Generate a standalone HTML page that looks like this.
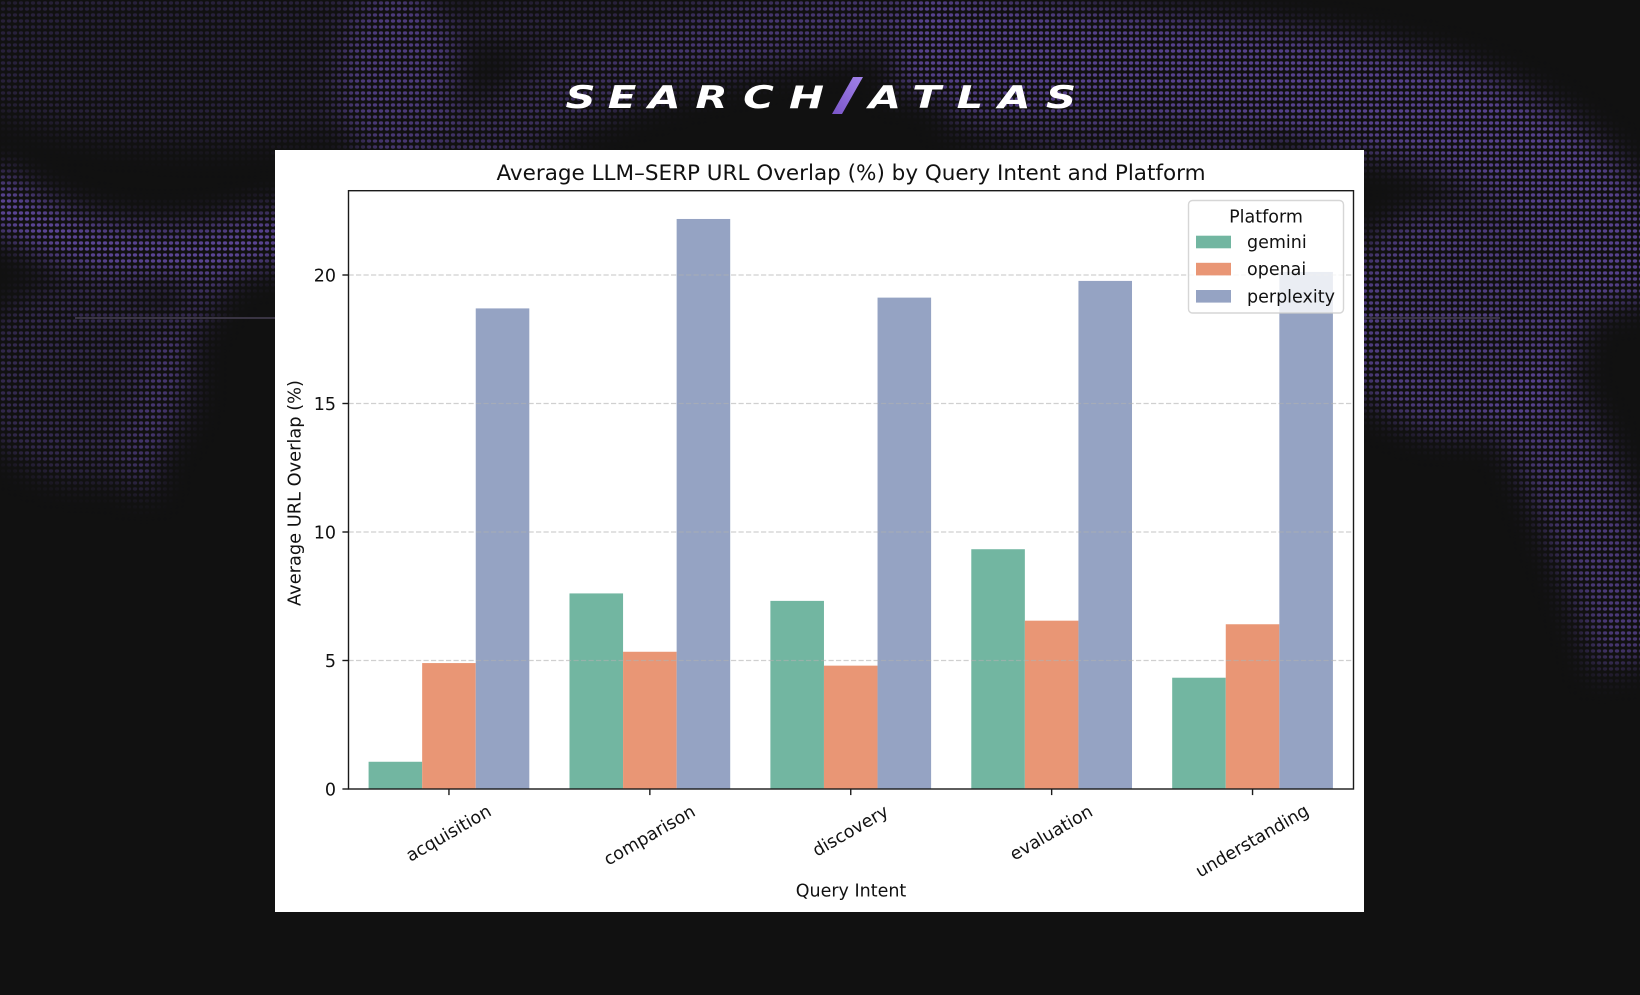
<!DOCTYPE html>
<html>
<head>
<meta charset="utf-8">
<style>
  html, body { margin: 0; padding: 0; background: #111111; }
  body { width: 1640px; height: 995px; overflow: hidden; }
  svg { display: block; }
  .t { font-family: "DejaVu Sans", "Liberation Sans", sans-serif; fill: #111; }
</style>
</head>
<body>
<svg width="1640" height="995" viewBox="0 0 1640 995" xmlns="http://www.w3.org/2000/svg">
  <defs>
    <pattern id="dots" width="6" height="6" patternUnits="userSpaceOnUse">
      <ellipse cx="3" cy="3" rx="2.2" ry="1.7" fill="#5e479a"/>
    </pattern>
    <filter id="blur" x="-20%" y="-20%" width="140%" height="140%">
      <feGaussianBlur stdDeviation="15"/>
    </filter>
    <mask id="halfmask" maskUnits="userSpaceOnUse" x="0" y="0" width="1640" height="995">
      <rect x="0" y="0" width="1640" height="995" fill="black"/>
      <g filter="url(#blur)">
        <!-- sparse top-left -->
        <ellipse cx="200" cy="55" rx="260" ry="90" fill="white" fill-opacity="0.3"/>
        <!-- streaks near x 400 -->
        <ellipse cx="400" cy="80" rx="60" ry="95" fill="white" fill-opacity="0.7"/>
        <!-- top middle -->
        <path d="M 450 155 C 560 90, 700 40, 900 10" stroke="white" stroke-opacity="0.55" stroke-width="70" fill="none"/>
        <ellipse cx="700" cy="25" rx="260" ry="40" fill="white" fill-opacity="0.35"/>
        <!-- right band -->
        <path d="M 900 35 C 1100 70, 1300 70, 1450 120 C 1560 160, 1620 230, 1640 300" stroke="white" stroke-opacity="0.9" stroke-width="110" fill="none"/>
        <path d="M 950 105 C 1050 130, 1150 150, 1260 160" stroke="white" stroke-opacity="0.6" stroke-width="40" fill="none"/>
        <!-- right region -->
        <ellipse cx="1460" cy="320" rx="125" ry="115" fill="white" fill-opacity="0.8"/>
        <path d="M 1520 380 C 1570 460, 1610 560, 1640 660" stroke="white" stroke-opacity="0.75" stroke-width="90" fill="none"/>
        <!-- left swoosh -->
        <path d="M -20 185 C 60 260, 180 270, 290 230" stroke="white" stroke-opacity="1" stroke-width="55" fill="none"/>
        <ellipse cx="85" cy="380" rx="110" ry="100" fill="white" fill-opacity="0.45"/>
        <path d="M 235 255 C 175 320, 150 400, 140 490" stroke="white" stroke-opacity="0.6" stroke-width="30" fill="none"/>
      </g>
    </mask>
    <linearGradient id="slashg" x1="0" y1="1" x2="1" y2="0">
      <stop offset="0" stop-color="#7a55c8"/>
      <stop offset="1" stop-color="#a283ea"/>
    </linearGradient>
  </defs>

  <!-- background -->
  <rect x="0" y="0" width="1640" height="995" fill="#111111"/>
  <rect x="0" y="0" width="1640" height="995" fill="url(#dots)" mask="url(#halfmask)"/>
  <line x1="75" y1="318" x2="275" y2="318" stroke="#4a4458" stroke-width="2" opacity="0.7"/>
  <line x1="1364" y1="318" x2="1500" y2="318" stroke="#4a4458" stroke-width="2" opacity="0.7"/>

  <!-- logo -->
  <g font-family="'DejaVu Sans', 'Liberation Sans', sans-serif" font-weight="bold" font-style="oblique" font-size="31" fill="#ffffff" text-anchor="middle">
    <text x="0" y="108" transform="translate(580.5,0) scale(1.35,1)">S</text>
    <text x="0" y="108" transform="translate(622,0) scale(1.35,1)">E</text>
    <text x="0" y="108" transform="translate(664.5,0) scale(1.35,1)">A</text>
    <text x="0" y="108" transform="translate(711.5,0) scale(1.35,1)">R</text>
    <text x="0" y="108" transform="translate(758.5,0) scale(1.35,1)">C</text>
    <text x="0" y="108" transform="translate(806.5,0) scale(1.35,1)">H</text>
    <text x="0" y="108" transform="translate(885,0) scale(1.35,1)">A</text>
    <text x="0" y="108" transform="translate(926.5,0) scale(1.35,1)">T</text>
    <text x="0" y="108" transform="translate(970,0) scale(1.35,1)">L</text>
    <text x="0" y="108" transform="translate(1014.5,0) scale(1.35,1)">A</text>
    <text x="0" y="108" transform="translate(1061,0) scale(1.35,1)">S</text>
  </g>
  <polygon points="853,77 863,77 842,114 832,114" fill="url(#slashg)"/>

  <!-- white chart panel -->
  <rect x="275" y="150" width="1089" height="762" fill="#ffffff"/>

  <!-- title -->
  <text class="t" x="851" y="180" font-size="21.5" text-anchor="middle">Average LLM–SERP URL Overlap (%) by Query Intent and Platform</text>

  <!-- bars -->
  <g>
    <rect x="368.59" y="761.76" width="53.57" height="27.24" fill="#72b6a1"/>
    <rect x="422.16" y="663.07" width="53.57" height="125.93" fill="#e99675"/>
    <rect x="475.74" y="308.41" width="53.57" height="480.59" fill="#95a3c3"/>
    <rect x="569.49" y="593.42" width="53.57" height="195.58" fill="#72b6a1"/>
    <rect x="623.06" y="651.76" width="53.57" height="137.24" fill="#e99675"/>
    <rect x="676.64" y="218.97" width="53.57" height="570.03" fill="#95a3c3"/>
    <rect x="770.39" y="600.88" width="53.57" height="188.12" fill="#72b6a1"/>
    <rect x="823.96" y="665.64" width="53.57" height="123.36" fill="#e99675"/>
    <rect x="877.54" y="297.62" width="53.57" height="491.38" fill="#95a3c3"/>
    <rect x="971.29" y="549.22" width="53.57" height="239.78" fill="#72b6a1"/>
    <rect x="1024.86" y="620.67" width="53.57" height="168.33" fill="#e99675"/>
    <rect x="1078.44" y="280.91" width="53.57" height="508.09" fill="#95a3c3"/>
    <rect x="1172.19" y="677.72" width="53.57" height="111.28" fill="#72b6a1"/>
    <rect x="1225.76" y="624.26" width="53.57" height="164.74" fill="#e99675"/>
    <rect x="1279.34" y="271.92" width="53.57" height="517.08" fill="#95a3c3"/>
  </g>

  <!-- grid -->
  <g stroke="#b0b0b0" stroke-opacity="0.6" stroke-width="1.3" stroke-dasharray="5.2 2.3">
    <line x1="348.5" y1="660.5" x2="1353.5" y2="660.5"/>
    <line x1="348.5" y1="532" x2="1353.5" y2="532"/>
    <line x1="348.5" y1="403.5" x2="1353.5" y2="403.5"/>
    <line x1="348.5" y1="275" x2="1353.5" y2="275"/>
  </g>

  <!-- spines -->
  <rect x="348.5" y="190.7" width="1005" height="598.3" fill="none" stroke="#1a1a1a" stroke-width="1.4"/>

  <!-- y ticks -->
  <g stroke="#1a1a1a" stroke-width="1.4">
    <line x1="342.4" y1="789" x2="348.5" y2="789"/>
    <line x1="342.4" y1="660.5" x2="348.5" y2="660.5"/>
    <line x1="342.4" y1="532" x2="348.5" y2="532"/>
    <line x1="342.4" y1="403.5" x2="348.5" y2="403.5"/>
    <line x1="342.4" y1="275" x2="348.5" y2="275"/>
  </g>
  <g font-size="17.5" text-anchor="end">
    <text class="t" x="336" y="795.4">0</text>
    <text class="t" x="336" y="666.9">5</text>
    <text class="t" x="336" y="538.4">10</text>
    <text class="t" x="336" y="409.9">15</text>
    <text class="t" x="336" y="281.4">20</text>
  </g>

  <!-- x ticks -->
  <g stroke="#1a1a1a" stroke-width="1.4">
    <line x1="448.95" y1="789" x2="448.95" y2="795.1"/>
    <line x1="649.85" y1="789" x2="649.85" y2="795.1"/>
    <line x1="850.75" y1="789" x2="850.75" y2="795.1"/>
    <line x1="1051.65" y1="789" x2="1051.65" y2="795.1"/>
    <line x1="1252.55" y1="789" x2="1252.55" y2="795.1"/>
  </g>
  <g font-size="17.5" text-anchor="middle">
    <text class="t" x="0" y="0" dominant-baseline="central" transform="translate(448.95,834) rotate(-30)">acquisition</text>
    <text class="t" x="0" y="0" dominant-baseline="central" transform="translate(649.85,836) rotate(-30)">comparison</text>
    <text class="t" x="0" y="0" dominant-baseline="central" transform="translate(850.75,831.5) rotate(-30)">discovery</text>
    <text class="t" x="0" y="0" dominant-baseline="central" transform="translate(1051.65,833.5) rotate(-30)">evaluation</text>
    <text class="t" x="0" y="0" dominant-baseline="central" transform="translate(1252.55,841.6) rotate(-30)">understanding</text>
  </g>

  <!-- axis labels -->
  <text class="t" x="851" y="896.5" font-size="17.5" text-anchor="middle">Query Intent</text>
  <text class="t" x="0" y="0" font-size="17.8" text-anchor="middle" dominant-baseline="central" transform="translate(295,493) rotate(-90)">Average URL Overlap (%)</text>

  <!-- legend -->
  <rect x="1188.5" y="200.5" width="155" height="112.5" rx="4" ry="4" fill="#ffffff" fill-opacity="0.8" stroke="#cccccc" stroke-opacity="0.8" stroke-width="1.4"/>
  <text class="t" x="1266" y="222.5" font-size="17.5" text-anchor="middle">Platform</text>
  <rect x="1196" y="235.7" width="35" height="12.6" fill="#72b6a1"/>
  <rect x="1196" y="262.8" width="35" height="12.6" fill="#e99675"/>
  <rect x="1196" y="290" width="35" height="12.6" fill="#95a3c3"/>
  <text class="t" x="1247" y="248" font-size="17.5">gemini</text>
  <text class="t" x="1247" y="275" font-size="17.5">openai</text>
  <text class="t" x="1247" y="302.5" font-size="17.5">perplexity</text>
</svg>
</body>
</html>
